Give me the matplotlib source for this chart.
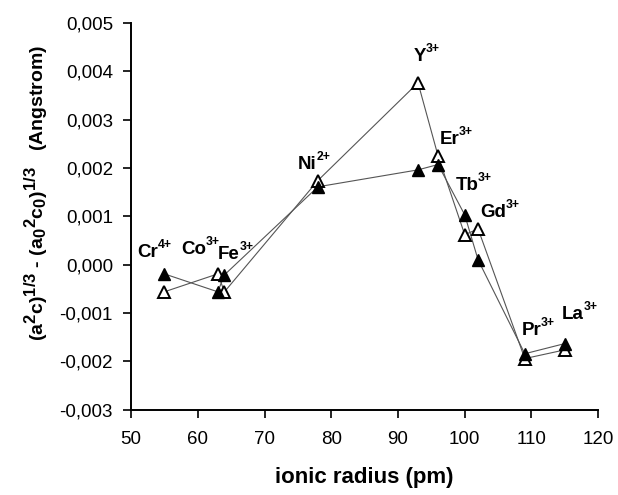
import matplotlib
matplotlib.use("Agg")
import matplotlib.pyplot as plt
import matplotlib._mathtext as mathtext_core
from matplotlib.font_manager import FontProperties
from matplotlib.textpath import TextToPath
from matplotlib.ticker import FuncFormatter, MultipleLocator

plt.rcParams["font.family"] = ["Liberation Sans", "DejaVu Sans"]
plt.rcParams["mathtext.fontset"] = "custom"
plt.rcParams["mathtext.rm"] = "Liberation Sans:bold"
plt.rcParams["mathtext.default"] = "regular"
# Excel-style axis title: super/subscripts a bit bigger than mathtext's default
mathtext_core.SHRINK_FACTOR = 0.85

# ionic radius (pm) and deviation values
ion_base = ["Cr", "Co", "Fe", "Ni", "Y", "Er", "Tb", "Gd", "Pr", "La"]
ion_charge = ["4+", "3+", "3+", "2+", "3+", "3+", "3+", "3+", "3+", "3+"]
radius = [55, 63, 64, 78, 93, 96, 100, 102, 109, 115]
filled_vals = [-0.00019, -0.00056, -0.00021, 0.00161, 0.00196,
               0.00207, 0.00103, 0.00010, -0.00184, -0.00163]
open_vals = [-0.00056, -0.00019, -0.00056, 0.00174, 0.00376,
             0.00225, 0.00062, 0.00074, -0.00194, -0.00176]

# label anchors (left edge / baseline, data coords)
label_x = [50.9, 57.5, 63.0, 75.0, 92.3, 96.2, 98.6, 102.3, 108.5, 114.6]
label_y = [0.000165, 0.000227, 0.000124, 0.00198, 0.00420,
           0.00250, 0.00155, 0.00099, -0.00145, -0.00112]

LABEL_SIZE = 13.5
SUP_SIZE = 8.8

fig = plt.figure(figsize=(6.18, 4.95), dpi=100, facecolor="white")
ax = fig.add_axes([0.212, 0.172, 0.756, 0.782])

ax.plot(radius, open_vals, color="#555555", lw=0.8, zorder=1)
ax.plot(radius, filled_vals, color="#555555", lw=0.8, zorder=1)
ax.plot(radius, open_vals, ls="none", marker="^", ms=8, mfc="white",
        mec="black", mew=1.4, zorder=2)
ax.plot(radius, filled_vals, ls="none", marker="^", ms=8, mfc="black",
        mec="black", mew=1.0, zorder=3)

# ion labels: element symbol + smaller raised charge
ttp = TextToPath()
base_prop = FontProperties(family="Liberation Sans", weight="bold", size=LABEL_SIZE)
for base, charge, lx, ly in zip(ion_base, ion_charge, label_x, label_y):
    ax.text(lx, ly, base, fontproperties=base_prop, ha="left", va="baseline")
    w, _, _ = ttp.get_text_width_height_descent(base, base_prop, ismath=False)
    ax.annotate(charge, xy=(lx, ly), xytext=(w - 0.2, 0.48 * LABEL_SIZE),
                textcoords="offset points", fontsize=SUP_SIZE, fontweight="bold",
                ha="left", va="baseline")

ax.set_xlim(50, 120)
ax.set_ylim(-0.003, 0.005)
ax.xaxis.set_major_locator(MultipleLocator(10))
ax.yaxis.set_major_locator(MultipleLocator(0.001))
ax.yaxis.set_major_formatter(
    FuncFormatter(lambda v, p: f"{v:.3f}".replace(".", ",").replace("-0,000", "0,000")))

for side in ("top", "right"):
    ax.spines[side].set_visible(False)
for side in ("left", "bottom"):
    ax.spines[side].set_linewidth(1.4)
ax.tick_params(direction="out", length=5.5, width=1.2, labelsize=13.5)
ax.tick_params(axis="x", pad=9.5)
ax.tick_params(axis="y", pad=7.5)

ax.set_xlabel("ionic radius (pm)", fontsize=16, fontweight="bold")
ax.set_ylabel("(a$^2$c)$^{1/3}$ - (a$_0$$^2$c$_0$)$^{1/3}$   (Angstrom)",
              fontsize=14, fontweight="bold")
ax.xaxis.set_label_coords(0.5, -0.148)
ax.yaxis.set_label_coords(-0.173, 0.56)

fig.savefig("out.png", dpi=100, facecolor="white")
